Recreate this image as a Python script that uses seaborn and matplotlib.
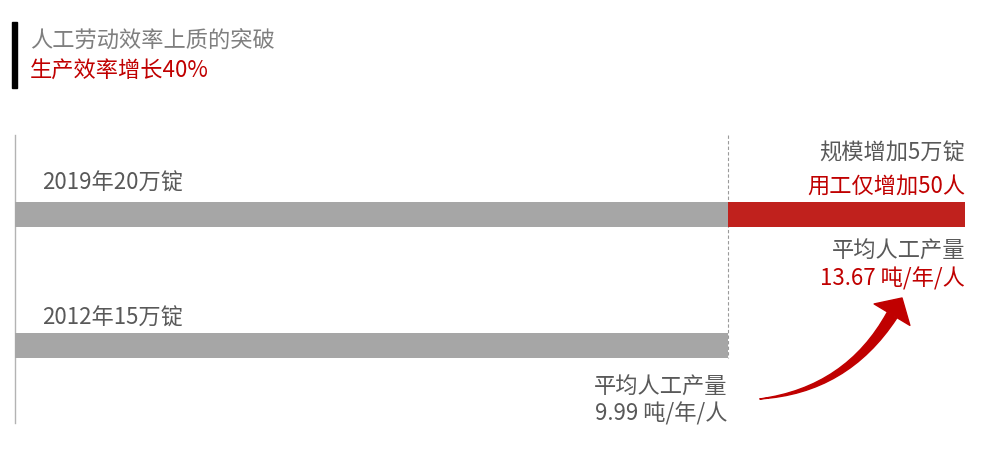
import seaborn as sns
import pandas as pd
import matplotlib.pyplot as plt
from matplotlib.patches import Rectangle, FancyArrowPatch

# 数据
years = ["2019年", "2012年"]
base_spindles = [15, 15]      # 万锭
total_spindles = [20, 15]     # 万锭
bar_labels = ["2019年20万锭", "2012年15万锭"]
output_new = "13.67 吨/年/人"
output_old = "9.99 吨/年/人"
title = "人工劳动效率上质的突破"
subtitle = "生产效率增长40%"

GRAY = "#a6a6a6"
RED = "#c0211d"
TXT = "#595959"
RED_TXT = "#c00000"

sns.set_style("white")
plt.rcParams['font.family'] = ['Noto Sans CJK SC', 'DejaVu Sans']

fig = plt.figure(figsize=(10.08, 4.67), dpi=100)
ax = fig.add_axes([15/1008, 1-423/467, 950/1008, 288/467])

df = pd.DataFrame({"year": years, "base": base_spindles, "total": total_spindles})

# 总量（2019 红色增量部分），再叠加灰色基础部分
sns.barplot(data=df, y="year", x="total", hue="year", palette=[RED, GRAY],
            saturation=1, orient="h", width=0.19, legend=False, ax=ax, zorder=2)
sns.barplot(data=df, y="year", x="base", color=GRAY, saturation=1,
            orient="h", width=0.19, ax=ax, zorder=3)
for p in ax.patches:
    p.set_edgecolor("none")

ax.set_xlim(0, 20)
ax.set_ylim(1.586, -0.605)
ax.vlines(base_spindles[1], -0.605, 1.09, colors="#9a9a9a", linestyles=(0, (3, 2)),
          linewidth=0.8, zorder=1)

sns.despine(ax=ax, top=True, right=True, bottom=True, left=False)
ax.spines['left'].set_color("#b3b3b3")
ax.spines['left'].set_linewidth(1)
ax.set_xticks([])
ax.set_yticks([])
ax.set_xlabel("")
ax.set_ylabel("")

fs = 16
ax.text(0.57, -0.24, bar_labels[0], fontsize=fs, color=TXT, va="center", ha="left")
ax.text(0.57, 0.787, bar_labels[1], fontsize=fs, color=TXT, va="center", ha="left")
ax.text(20, -0.468, "规模增加5万锭", fontsize=fs, color=TXT, va="center", ha="right")
ax.text(20, -0.217, "用工仅增加50人", fontsize=fs, color=RED_TXT, va="center", ha="right")
ax.text(20, 0.278, "平均人工产量", fontsize=fs, color=TXT, va="center", ha="right")
ax.text(20, 0.49, output_new, fontsize=fs, color=RED_TXT, va="center", ha="right")
ax.text(15, 1.312, "平均人工产量", fontsize=fs, color=TXT, va="center", ha="right")
ax.text(15, 1.517, output_old, fontsize=fs, color=TXT, va="center", ha="right")

# 弯曲箭头：尾部渐细 + 箭头
body = FancyArrowPatch((18.46, 0.768), (15.68, 1.403),
                       arrowstyle="wedge,tail_width=1.0,shrink_factor=0.5",
                       connectionstyle="arc3,rad=-0.25", color="#c00000",
                       mutation_scale=8, shrinkA=0, shrinkB=0, clip_on=False, zorder=4)
ax.add_patch(body)
head = FancyArrowPatch((18.40, 0.80), (18.674, 0.635),
                       arrowstyle="simple,head_length=1.4,head_width=3.0,tail_width=0.01",
                       color="#c00000", mutation_scale=10, shrinkA=0, shrinkB=0,
                       clip_on=False, zorder=4)
ax.add_patch(head)

# 标题
fig.add_artist(Rectangle((12/1008, 1-88/467), 5/1008, 66/467,
                         transform=fig.transFigure, color="black"))
fig.text(30/1008, 1-41/467, title, fontsize=fs, color="#7f7f7f", va="center", ha="left")
fig.text(30/1008, 1-70/467, subtitle, fontsize=fs, color=RED_TXT, va="center", ha="left")

fig.savefig("out.png", dpi=100)
